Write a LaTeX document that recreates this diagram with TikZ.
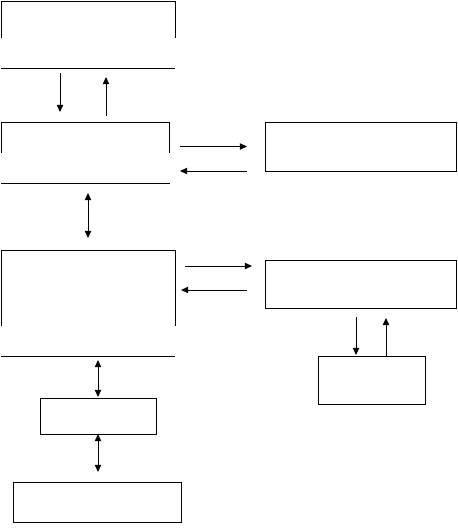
\documentclass[tikz,border=0pt]{standalone}
\usetikzlibrary{arrows.meta}

\tikzset{
  box/.style={draw, rectangle, inner sep=0pt, outer sep=0pt},
  openbox/.style={rectangle, inner sep=0pt, outer sep=0pt},
  link/.style={-{Triangle[length=0.18cm,width=0.16cm]}},
  dlink/.style={{Triangle[length=0.18cm,width=0.16cm]}-{Triangle[length=0.18cm,width=0.16cm]}}
}

\begin{document}
\begin{tikzpicture}[line width=0.7pt]

  \useasboundingbox (0,0) rectangle (11.425,-13.275);

  % left column
  \node[openbox, minimum width=4.35cm, minimum height=1.675cm] (topbox) at (2.2,-0.8625) {};
  \node[openbox, minimum width=4.2cm, minimum height=1.525cm] (midbox) at (2.125,-3.8125) {};
  \node[openbox, minimum width=4.35cm, minimum height=2.65cm] (lowbox) at (2.2,-7.575) {};
  \node[box, minimum width=2.9cm, minimum height=0.9cm] (smallbox) at (2.45,-10.4) {};
  \node[box, minimum width=4.2cm, minimum height=1.0cm] (basebox) at (2.425,-12.55) {};

  % right column
  \node[box, minimum width=4.775cm, minimum height=1.225cm] (sideA) at (9.0125,-3.6625) {};
  \node[box, minimum width=4.775cm, minimum height=1.2cm] (sideB) at (9.0125,-7.1) {};
  \node[box, minimum width=2.675cm, minimum height=1.2cm] (cornerbox) at (9.2875,-9.5) {};

  % open outlines
  \draw ([yshift=-0.925cm]topbox.north west) -- (topbox.north west) -- (topbox.north east) -- ([yshift=-0.925cm]topbox.north east);
  \draw (topbox.south west) -- (topbox.south east);
  \draw ([yshift=-0.775cm]midbox.north west) -- (midbox.north west) -- (midbox.north east) -- ([yshift=-0.775cm]midbox.north east);
  \draw (midbox.south west) -- ([xshift=0.025cm]midbox.south east);
  \draw ([yshift=-1.9cm]lowbox.north west) -- (lowbox.north west) -- (lowbox.north east) -- ([yshift=-1.9cm]lowbox.north east);
  \draw (lowbox.south west) -- (lowbox.south east);

  % vertical links
  \draw[link, shorten <=0.125cm, shorten >=0.25cm] ([xshift=-0.7cm]topbox.south) -- ([xshift=-0.7cm]topbox.south |- midbox.north);
  \draw[link, shorten <=0.15cm, shorten >=0.225cm] ([xshift=0.45cm]topbox.south |- midbox.north) -- ([xshift=0.45cm]topbox.south);
  \draw[dlink, shorten <=0.25cm, shorten >=0.3cm] (lowbox.north |- midbox.south) -- (lowbox.north);
  \draw[dlink, shorten <=0.1cm, shorten >=0.025cm] (smallbox.north |- lowbox.south) -- (smallbox.north);
  \draw[dlink, shorten >=0.25cm] (smallbox.south) -- (smallbox.south |- basebox.north);
  \draw[link, shorten <=0.225cm, shorten >=0.025cm] ([xshift=-0.3875cm]cornerbox.north |- sideB.south) -- ([xshift=-0.3875cm]cornerbox.north);
  \draw[link, shorten >=0.25cm] ([xshift=0.3625cm]cornerbox.north) -- ([xshift=0.3625cm]cornerbox.north |- sideB.south);

  % horizontal links
  \draw[link, shorten <=0.275cm, shorten >=0.45cm] (sideA.west -| midbox.east) -- (sideA.west);
  \draw[link, shorten <=0.45cm, shorten >=0.275cm] (sideA.south west) -- (sideA.south west -| midbox.east);
  \draw[link, shorten <=0.25cm, shorten >=0.325cm] ([yshift=-0.15cm]sideB.north west -| lowbox.east) -- ([yshift=-0.15cm]sideB.north west);
  \draw[link, shorten <=0.45cm, shorten >=0.15cm] ([yshift=-0.15cm]sideB.west) -- ([yshift=-0.15cm]sideB.west -| lowbox.east);

\end{tikzpicture}
\end{document}
